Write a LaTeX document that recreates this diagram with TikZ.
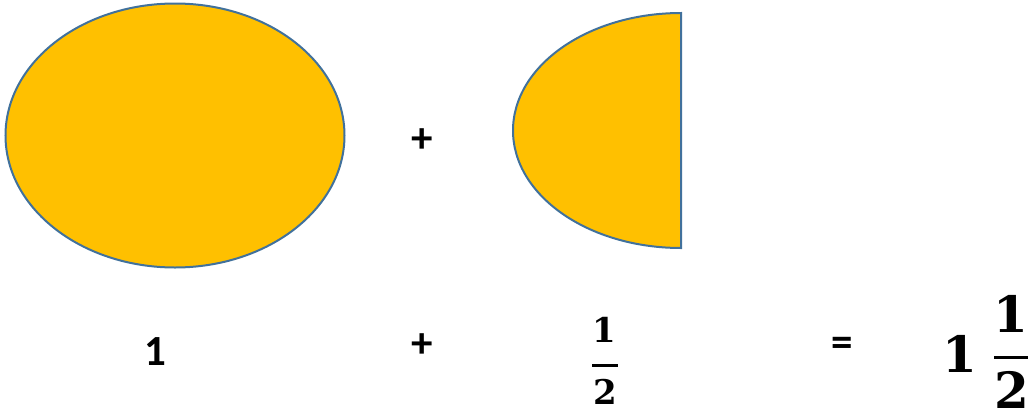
\documentclass[tikz,border=0pt]{standalone}
\usepackage{fontspec}
\setmainfont{Carlito}
\newfontfamily\digfont{DejaVu Serif}
\begin{document}
\begin{tikzpicture}[x=1pt,y=-1pt,
  shapestyle/.style={fill=shapefill,draw=shapeline,line width=2pt},
  sym/.style={inner sep=0pt,font=\fontsize{43}{43}\selectfont\bfseries},
  fracsmall/.style={inner sep=0pt,font=\fontsize{34}{34}\selectfont\digfont\bfseries},
  fracbig/.style={inner sep=0pt,font=\fontsize{50}{50}\selectfont\digfont\bfseries},
  fracbar/.style={line width=2.6pt}]
\definecolor{shapefill}{HTML}{FFC000}
\definecolor{shapeline}{HTML}{41719C}
\useasboundingbox (0,0) rectangle (1031,413);
% whole
\draw[shapestyle] (175,135.5) ellipse [x radius=169.5, y radius=132];
% half
\draw[shapestyle] (681,13) arc[start angle=90, end angle=270, x radius=168, y radius=-117.5] -- cycle;
\node[sym] (plusA) at (422.5,141) {+};
\node[sym] (one) at (155.5,351.5) {1};
\node[sym] (plusB) at (422.5,345.5) {+};
% small fraction 1/2
\node[fracsmall] (hnum) at (604.5,329.5) {1};
\node[fracsmall] (hden) at (605,391.5) {2};
\coordinate (hbarL) at (592,365.5);
\coordinate (hbarR) at (618,365.5);
\draw[fracbar] (hbarL) -- (hbarR);
\node[sym] (eq) at (842.5,347) {=};
% 1 1/2
\node[fracbig] (bigone) at (960,353.5) {1};
\node[fracbig] (bnum) at (1011,313.5) {1};
\node[fracbig] (bden) at (1012,390) {2};
\coordinate (bbarL) at (994,357.5);
\coordinate (bbarR) at (1028,357.5);
\draw[fracbar,line width=3pt] (bbarL) -- (bbarR);
\end{tikzpicture}
\end{document}
